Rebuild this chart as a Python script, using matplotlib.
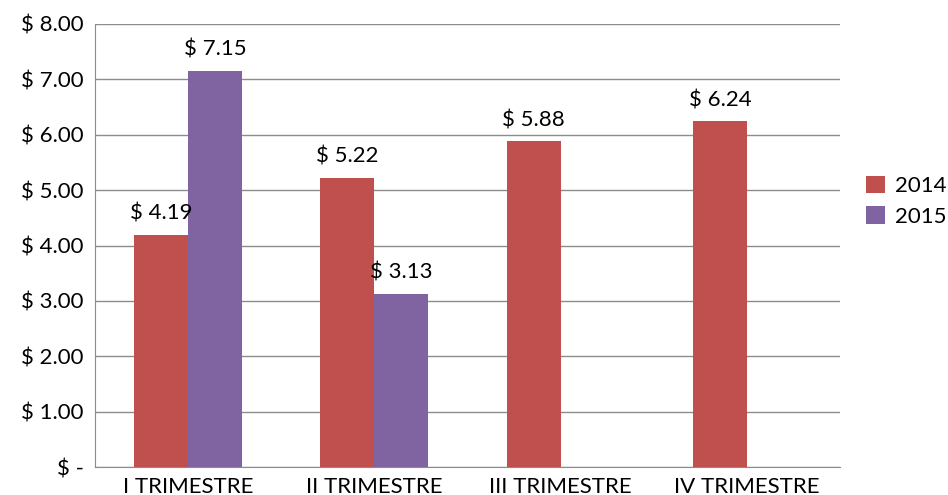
import matplotlib
matplotlib.use("Agg")
import matplotlib.pyplot as plt
import numpy as np

plt.rcParams["font.family"] = ["Lato", "DejaVu Sans"]

categories = ["I TRIMESTRE", "II TRIMESTRE", "III TRIMESTRE", "IV TRIMESTRE"]
values_2014 = [4.19, 5.22, 5.88, 6.24]
values_2015 = [7.15, 3.13, None, None]
series_names = ["2014", "2015"]
colors = ["#c0504d", "#8064a2"]

fig = plt.figure(figsize=(9.48, 4.95), dpi=100)
ax = fig.add_axes([95 / 948, 28 / 495, 745 / 948, 443 / 495])

x = np.arange(len(categories))
width = 0.29
fs = 16

def money(v):
    return f"$ {v:.2f}"

b1 = ax.bar(x - width / 2, values_2014, width, color=colors[0], label=series_names[0], zorder=3)
x2 = [xi for xi, v in zip(x, values_2015) if v is not None]
v2 = [v for v in values_2015 if v is not None]
b2 = ax.bar(np.array(x2) + width / 2, v2, width, color=colors[1], label=series_names[1], zorder=3)

for bars, vals in ((b1, values_2014), (b2, v2)):
    for bar, val in zip(bars, vals):
        ax.text(bar.get_x() + bar.get_width() / 2, val + 0.2, money(val),
                ha="center", va="bottom", fontsize=fs)

ax.set_xlim(-0.5, 3.5)
ax.set_ylim(0, 8)
ax.set_yticks(np.arange(0, 9))
ax.set_yticklabels(["$ -"] + [money(v) for v in range(1, 9)], fontsize=fs)
ax.set_xticks(x)
ax.set_xticklabels(categories, fontsize=fs)
ax.tick_params(axis="y", length=0, pad=8)
ax.tick_params(axis="x", length=0, pad=7)

ax.grid(axis="y", color="#8c8c8c", linewidth=1, zorder=0)
for s in ("top", "right"):
    ax.spines[s].set_visible(False)
ax.spines["left"].set_color("#8c8c8c")
ax.spines["bottom"].set_color("#8c8c8c")

ax.legend(loc="center left", bbox_to_anchor=(1.035, 0.6), frameon=False,
          fontsize=fs, handlelength=0.85, handleheight=0.85, handletextpad=0.45,
          labelspacing=0.45, borderaxespad=0, borderpad=0)

fig.savefig("out.png", dpi=100)
